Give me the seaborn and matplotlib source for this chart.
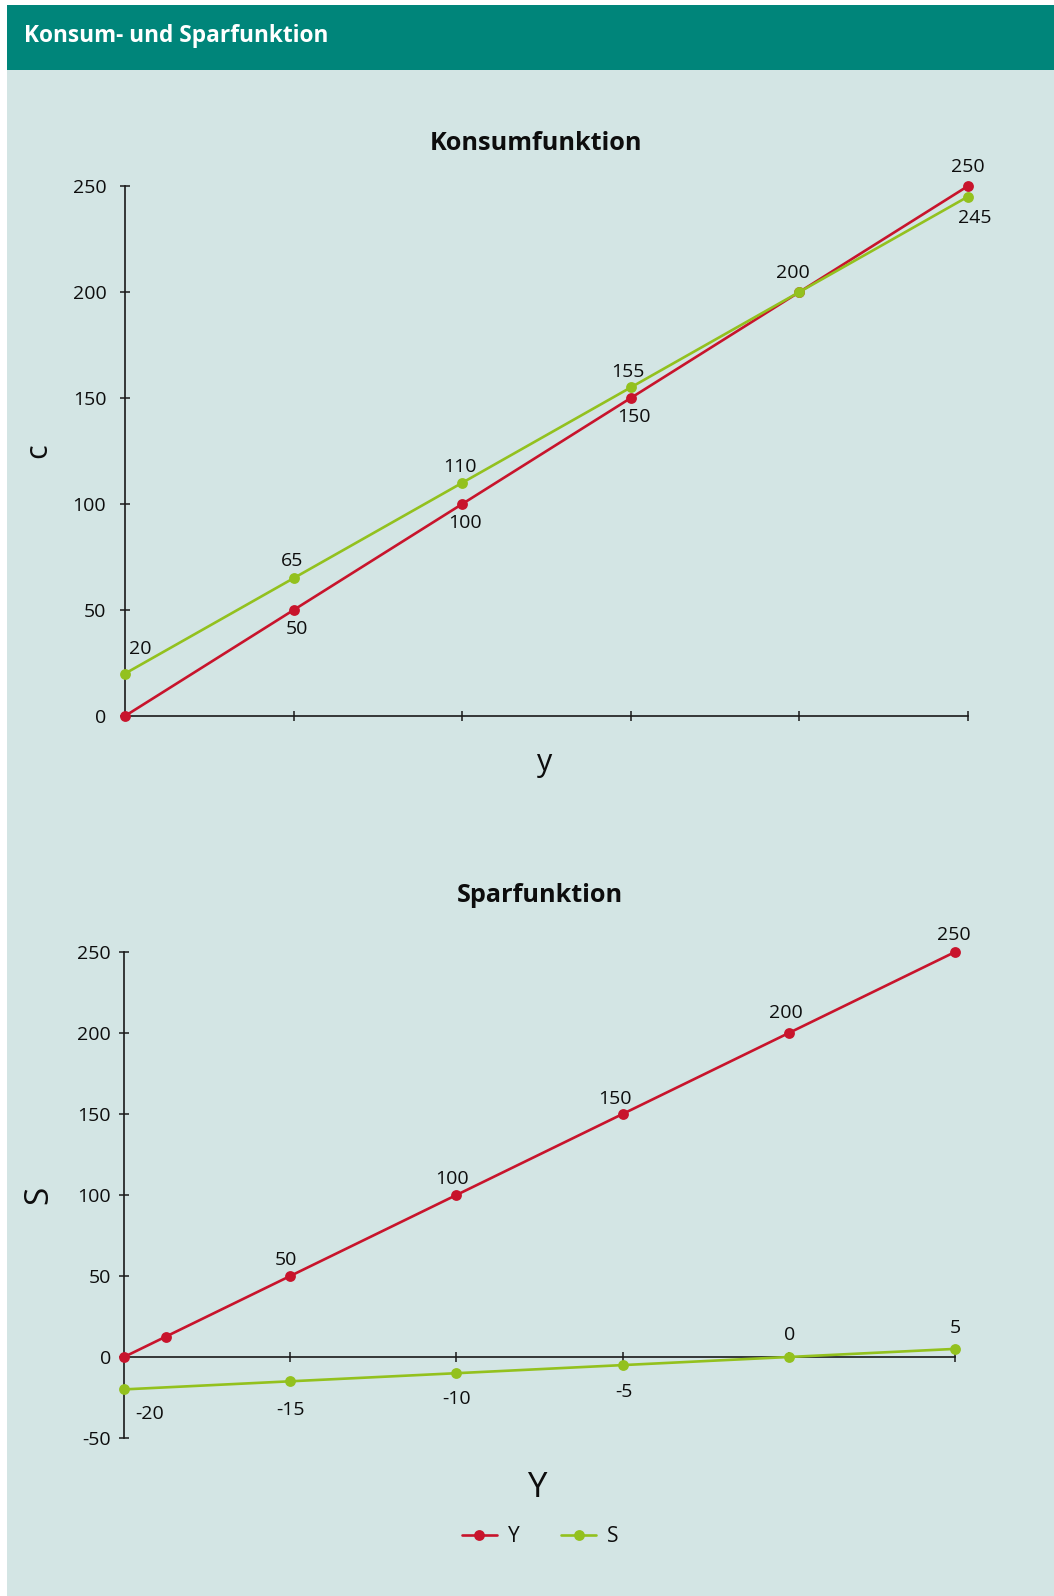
import matplotlib
matplotlib.use("Agg")
import matplotlib.pyplot as plt
from matplotlib.patches import Rectangle
from matplotlib.lines import Line2D
import seaborn as sns
import pandas as pd

# ---- data ----
konsum_x = [0, 1, 2, 3, 4, 5]
konsum_y_vals = [0, 50, 100, 150, 200, 250]
konsum_c_vals = [20, 65, 110, 155, 200, 245]

spar_y_x = [0, 0.25, 1, 2, 3, 4, 5]
spar_y_vals = [0, 12.5, 50, 100, 150, 200, 250]
spar_s_x = [0, 1, 2, 3, 4, 5]
spar_s_vals = [-20, -15, -10, -5, 0, 5]

konsum_yticks = [0, 50, 100, 150, 200, 250]
spar_yticks = [-50, 0, 50, 100, 150, 200, 250]

RED = "#C8142C"
GREEN = "#93C11E"
BG = "#D3E5E4"
TEAL = "#00857A"
INK = "#0d0d0d"
FONT = ["Open Sans", "DejaVu Sans"]
LW = 1.9
MS = 7.8

sns.set_theme(style="white")
plt.rcParams["font.family"] = FONT

W, H = 1054, 1596
fig = plt.figure(figsize=(W / 100, H / 100), dpi=100, facecolor="white")

# page background and header band
fig.patches.append(Rectangle((7 / W, 0), 1 - 7 / W, 1 - 5 / H, transform=fig.transFigure,
                             facecolor=BG, edgecolor="none", zorder=-10))
fig.patches.append(Rectangle((7 / W, 1 - 70 / H), 1 - 7 / W, 65 / H, transform=fig.transFigure,
                             facecolor=TEAL, edgecolor="none", zorder=-5))
fig.text(24 / W, 1 - 36 / H, "Konsum- und Sparfunktion", color="white", fontsize=16.3,
         fontweight="bold", va="center", ha="left")


def px_axes(left, top, right, bottom):
    return fig.add_axes([left / W, 1 - bottom / H, (right - left) / W, (bottom - top) / H])


def style_axes(ax, ypad):
    ax.set_facecolor("none")
    for s in ["top", "right"]:
        ax.spines[s].set_visible(False)
    for s in ["left", "bottom"]:
        ax.spines[s].set_color("#1a1a1a")
        ax.spines[s].set_linewidth(1.2)
    ax.tick_params(axis="both", direction="inout", length=7, width=1.1, color="#1a1a1a",
                   labelsize=14, labelcolor=INK, bottom=True, left=True)
    ax.tick_params(axis="y", pad=ypad)
    ax.tick_params(axis="x", labelbottom=False)


def draw_series(ax, xs, ys, color):
    df = pd.DataFrame({"x": xs, "v": ys})
    sns.lineplot(data=df, x="x", y="v", ax=ax, color=color, linewidth=LW, marker="o",
                 markersize=MS, markeredgewidth=0, sort=False, clip_on=False, zorder=4)


def label_points(ax, xs, ys, labels, offsets):
    for x, y, t, (dx, dy) in zip(xs, ys, labels, offsets):
        if t is None:
            continue
        ax.annotate(t, (x, y), xytext=(dx, dy), textcoords="offset pixels", ha="center",
                    va="center", fontsize=14, color=INK)


def x_caption(text, x_px, y_px, size):
    fig.text(x_px / W, 1 - y_px / H, text, ha="center", va="center", fontsize=size, color=INK)


# ---- Konsumfunktion ----
ax1 = px_axes(125, 186, 968, 716)
style_axes(ax1, ypad=10)
draw_series(ax1, konsum_x, konsum_y_vals, RED)
draw_series(ax1, konsum_x, konsum_c_vals, GREEN)
ax1.set_xlim(0, 5)
ax1.set_ylim(0, 250)
ax1.set_xticks(konsum_x[1:])
ax1.set_yticks(konsum_yticks)
ax1.set_yticklabels([str(v) for v in konsum_yticks])
ax1.set_title("Konsumfunktion", fontsize=18.2, fontweight="bold", pad=26, color=INK, x=0.4875)
ax1.set_xlabel("")
ax1.set_ylabel("c", fontsize=22, labelpad=14, color=INK)
x_caption("y", 545, 763, 22)

label_points(ax1, konsum_x, konsum_y_vals,
             [None, "50", "100", "150", None, "250"],
             [(0, 0), (3, -19), (3, -19), (3, -19), (0, 0), (0, 19)])
label_points(ax1, konsum_x, konsum_c_vals,
             ["20", "65", "110", "155", "200", "245"],
             [(15, 25), (-2, 17), (-2, 16), (-3, 15), (-7, 19), (7, -21)])

# ---- Sparfunktion ----
ax2 = px_axes(124, 952, 955, 1438)
style_axes(ax2, ypad=5.8)
ax2.spines["bottom"].set_position(("data", 0))
draw_series(ax2, spar_y_x, spar_y_vals, RED)
draw_series(ax2, spar_s_x, spar_s_vals, GREEN)
ax2.set_xlim(0, 5)
ax2.set_ylim(-50, 250)
ax2.set_xticks(spar_s_x[1:])
ax2.set_yticks(spar_yticks)
ax2.set_yticklabels([str(v) for v in spar_yticks])
ax2.set_title("Sparfunktion", fontsize=18.2, fontweight="bold", pad=36, color=INK)
ax2.set_xlabel("")
ax2.set_ylabel("S", fontsize=24, labelpad=16, color=INK)
x_caption("Y", 537, 1488, 25)

label_points(ax2, spar_y_x, spar_y_vals,
             [None, None, "50", "100", "150", "200", "250"],
             [(0, 0), (0, 0), (-4, 16), (-4, 16), (-8, 15), (-3, 20), (-1, 17)])
label_points(ax2, spar_s_x, spar_s_vals,
             ["-20", "-15", "-10", "-5", "0", "5"],
             [(26, -25), (0, -29), (0, -26), (1, -27), (1, 22), (0, 21)])

# ---- legend ----
handles = [
    Line2D([], [], color=RED, linewidth=LW, marker="o", markersize=MS, markeredgewidth=0),
    Line2D([], [], color=GREEN, linewidth=LW, marker="o", markersize=MS, markeredgewidth=0),
]
fig.legend(handles, ["Y", "S"], loc="center", bbox_to_anchor=(540 / W, 1 - 1537 / H), ncol=2,
           frameon=False, fontsize=15, handlelength=1.7, columnspacing=2.0, handletextpad=0.5,
           labelcolor=INK)

fig.savefig("out.png", dpi=100, facecolor=fig.get_facecolor())
